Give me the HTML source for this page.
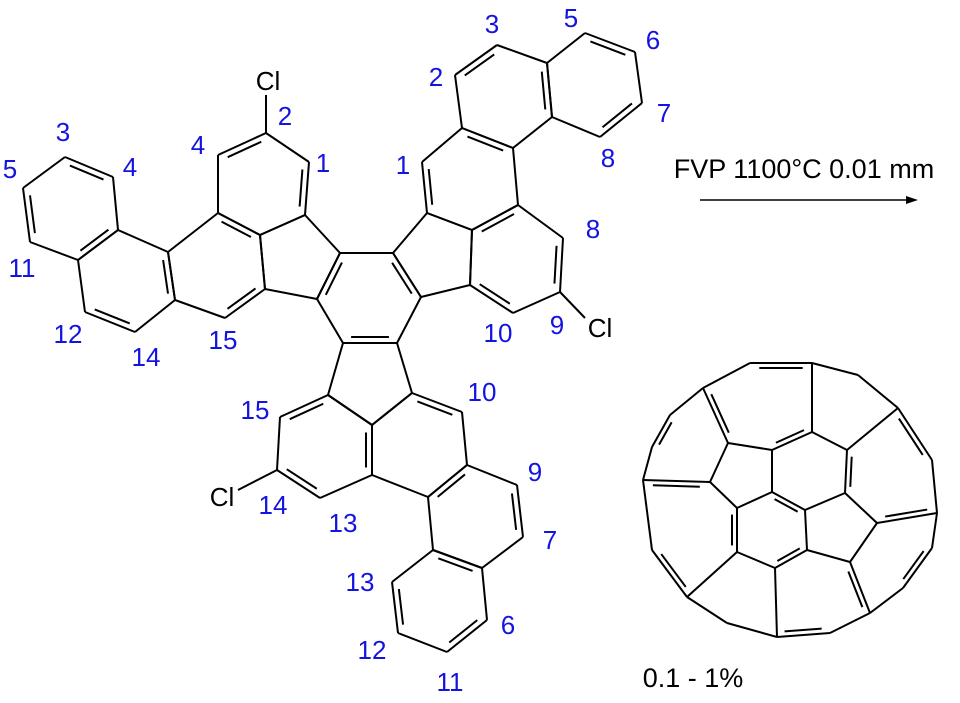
<!DOCTYPE html>
<html><head><meta charset="utf-8"><style>
html,body{margin:0;padding:0;background:#fff;width:960px;height:703px;overflow:hidden}
svg{display:block}
text{font-family:"Liberation Sans",sans-serif;dominant-baseline:central;text-anchor:middle}
.b{fill:#1414e0;font-size:26px}
.k{fill:#000;font-size:26px}
</style></head><body>
<svg id="s" width="960" height="703" viewBox="0 0 960 703" xmlns="http://www.w3.org/2000/svg">
<g id="g" stroke="#000" stroke-width="2" fill="none" stroke-linejoin="round"></g>
<line x1="700" y1="200" x2="910" y2="200" stroke="#000" stroke-width="1.5"/>
<polygon points="918,200 906,196 906,204" fill="#000"/>
<text class="k" x="804" y="169" style="font-size:27px">FVP 1100°C 0.01 mm</text>
<text class="k" x="693" y="678" style="font-size:27px">0.1 - 1%</text>
<text class="b" x="63" y="132">3</text>
<text class="b" x="10" y="169">5</text>
<text class="b" x="130" y="167">4</text>
<text class="b" x="198" y="145">4</text>
<text class="k" x="268" y="81">Cl</text>
<text class="b" x="285" y="116">2</text>
<text class="b" x="323" y="163">1</text>
<text class="b" x="22" y="268">11</text>
<text class="b" x="68" y="334">12</text>
<text class="b" x="146" y="357">14</text>
<text class="b" x="223" y="340">15</text>
<text class="b" x="436" y="77">2</text>
<text class="b" x="492" y="24">3</text>
<text class="b" x="571" y="18">5</text>
<text class="b" x="653" y="40">6</text>
<text class="b" x="664" y="113">7</text>
<text class="b" x="608" y="158">8</text>
<text class="b" x="403" y="165">1</text>
<text class="b" x="593" y="229">8</text>
<text class="b" x="498" y="333">10</text>
<text class="b" x="557" y="325">9</text>
<text class="k" x="600" y="328">Cl</text>
<text class="b" x="482" y="392">10</text>
<text class="b" x="255" y="410">15</text>
<text class="b" x="535" y="472">9</text>
<text class="k" x="222" y="497">Cl</text>
<text class="b" x="273" y="505">14</text>
<text class="b" x="343" y="523">13</text>
<text class="b" x="550" y="540">7</text>
<text class="b" x="360" y="582">13</text>
<text class="b" x="508" y="625">6</text>
<text class="b" x="372" y="650">12</text>
<text class="b" x="450" y="682">11</text>
</svg>
<script>
var g=document.getElementById('g');
function L(a,b,c,d){var l=document.createElementNS('http://www.w3.org/2000/svg','line');l.setAttribute('x1',a);l.setAttribute('y1',b);l.setAttribute('x2',c);l.setAttribute('y2',d);g.appendChild(l);}
function poly(p){for(var i=0;i<p.length;i++){var q=p[(i+1)%p.length];L(p[i][0],p[i][1],q[0],q[1]);}}
function inner(p,q,c,off){off=off||6;var dx=q[0]-p[0],dy=q[1]-p[1],len=Math.hypot(dx,dy);var nx=-dy/len,ny=dx/len;var mx=(p[0]+q[0])/2,my=(p[1]+q[1])/2;if((c[0]-mx)*nx+(c[1]-my)*ny<0){nx=-nx;ny=-ny;}var s=0.15;L(p[0]+dx*s+nx*off,p[1]+dy*s+ny*off,q[0]-dx*s+nx*off,q[1]-dy*s+ny*off);}
function cen(r){var x=0,y=0;r.forEach(function(p){x+=p[0];y+=p[1]});return [x/r.length,y/r.length];}
var rings=[
 [[65,157],[113,177],[118,230],[78,260],[30,242],[23,188]],
 [[118,230],[168,252],[175,300],[135,332],[85,312],[78,260]],
 [[168,252],[218,213],[260,235],[265,289],[225,318],[175,300]],
 [[218,213],[218,155],[266,133],[309,162],[305,215],[260,235]],
 [[305,215],[340,253],[317,299],[265,289],[260,235]],
 [[340,253],[393,253],[421,297],[397,343],[343,343],[317,299]],
 [[393,253],[427,213],[472,230],[470,285],[421,297]],
 [[427,213],[422,162],[462,128],[513,148],[518,205],[472,230]],
 [[472,230],[518,205],[563,238],[560,292],[513,313],[470,285]],
 [[462,128],[455,75],[497,45],[547,63],[552,117],[513,148]],
 [[547,63],[585,33],[635,52],[642,103],[600,137],[552,117]],
 [[343,343],[397,343],[412,393],[372,425],[328,395]],
 [[328,395],[372,425],[372,475],[320,498],[277,470],[280,417]],
 [[412,393],[372,425],[372,475],[428,497],[467,465],[462,412]],
 [[467,465],[428,497],[433,550],[482,568],[523,537],[517,485]],
 [[433,550],[482,568],[487,620],[447,652],[398,633],[392,582]]
];
rings.forEach(poly);
function D(r,a,b){var R=rings[r];inner(R[a],R[b],cen(R));}
D(0,0,1);D(0,4,5);D(0,2,3);
D(1,4,3);D(1,1,2);
D(2,4,3);D(2,1,2);
D(3,1,2);D(3,3,4);
D(5,5,0);D(5,1,2);D(5,3,4);
D(7,0,1);D(7,2,3);
D(8,0,1);D(8,2,3);D(8,4,5);
D(9,1,2);D(9,3,4);
D(10,1,2);D(10,3,4);
D(12,0,5);D(12,3,4);D(12,1,2);
D(13,0,5);
D(14,0,1);D(14,4,5);
D(15,0,1);D(15,2,3);D(15,4,5);
L(266,133,266,95);L(560,292,585,318);L(277,470,238,490);
var O=[[750,363],[812,363],[858,375],[898,408],[932,460],[937,513],[932,548],[903,588],[870,613],[830,633],[777,637],[727,623],[687,597],[652,550],[643,480],[652,447],[670,415],[703,388]];
poly(O);
var P1=[812,432],P2=[772,450],P3=[728,443],P4=[710,482],P5=[737,508],P6=[772,492],P7=[805,510],P8=[845,493],P9=[847,450],P10=[877,523],P11=[850,562],P12=[807,550],P13=[775,568],P14=[737,552];
var E=[[O[1],P1],[P1,P2],[P2,P3],[P3,O[17]],[P3,P4],[P4,O[14]],[P4,P5],[P5,P6],[P6,P2],[P6,P7],[P7,P8],[P8,P9],[P9,P1],[P9,O[3]],[P8,P10],[P10,O[5]],[P10,P11],[P11,P12],[P12,P7],[P11,O[8]],[P12,P13],[P13,O[10]],[P13,P14],[P14,P5],[P14,O[12]]];
E.forEach(function(e){L(e[0][0],e[0][1],e[1][0],e[1][1]);});
var cT=[763,403],cL=[678,528],cC=[772,530],cR=[900,470],cBR=[895,560],cB=[818,595],cTL=[680,440];
inner(O[0],O[1],cT,5);inner(P3,O[17],cT,5);inner(P1,P2,cT,5);
inner(O[15],O[16],cTL,5);inner(P4,O[14],cL,5);inner(P14,P5,cL,5);inner(O[12],O[13],cL,5);
inner(P6,P7,cC,5);inner(P12,P13,cC,5);
inner(P9,P8,cR,5);inner(P10,O[5],cR,5);inner(O[3],O[4],cR,5);
inner(O[6],O[7],cBR,5);inner(P11,O[8],cB,5);inner(O[9],O[10],cB,5);
</script>
</body></html>
